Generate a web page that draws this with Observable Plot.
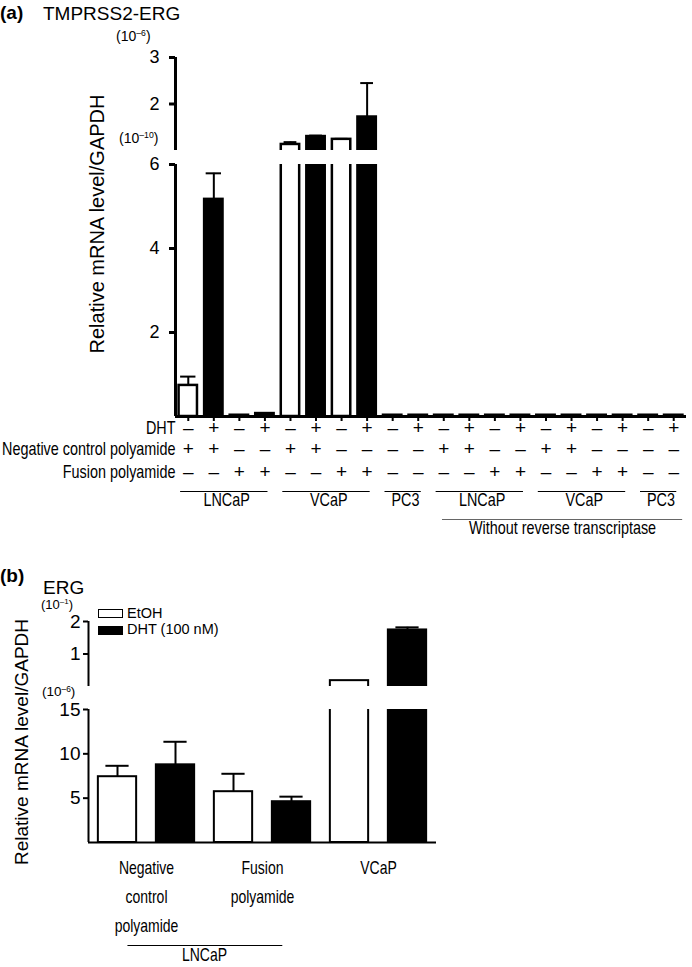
<!DOCTYPE html>
<html><head><meta charset="utf-8">
<script src="https://cdn.jsdelivr.net/npm/d3@7"></script>
<script src="https://cdn.jsdelivr.net/npm/@observablehq/plot@0.6"></script>
<style>
html,body{margin:0;padding:0;background:#fff;}
#page{position:relative;width:692px;height:967px;overflow:hidden;font-family:'Liberation Sans',Arial,sans-serif;color:#000;}
.abs{position:absolute;white-space:nowrap;line-height:1;}
.abs sup{font-size:0.62em;vertical-align:0.55em;line-height:0;}
</style></head><body><div id="page"></div>
<script>
// ---------------- Panel (a) data: TMPRSS2-ERG ----------------
const aDHT     = ["–","+","–","+","–","+","–","+","–","+","–","+","–","+","–","+","–","+","–","+"];
const aNegCtrl = ["+","+","–","–","+","+","–","–","–","–","+","+","–","–","+","+","–","–","–","–"];
const aFusion  = ["–","–","+","+","–","–","+","+","–","–","–","–","+","+","–","–","+","+","–","–"];
const aRowLabels = ["DHT", "Negative control polyamide", "Fusion polyamide"];
const aMean = [0.74e-10, 5.17e-10, 0.03e-10, 0.07e-10,
               1.13e-6, 1.30e-6, 1.24e-6, 1.72e-6,
               0.03e-10, 0.03e-10,
               0.03e-10, 0.03e-10, 0.03e-10, 0.03e-10,
               0.03e-10, 0.03e-10, 0.03e-10, 0.03e-10,
               0.03e-10, 0.03e-10];
const aErr  = [0.21e-10, 0.62e-10, 0, 0,
               0.05e-6, 0.02e-6, 0.01e-6, 0.73e-6,
               0, 0, 0, 0, 0, 0, 0, 0, 0, 0, 0, 0];
const aGroups = ["LNCaP", "VCaP", "PC3", "LNCaP", "VCaP", "PC3"];
const aGroupSizes = [4, 4, 2, 4, 4, 2];
const aOuterLabel = "Without reverse transcriptase";
const aOuterFirstGroup = 3;
const aLowerUnit = 1e-10, aUpperUnit = 1e-6;
const aLowerDomain = [0, 6], aUpperDomain = [1, 3];
const aLowerTicks = [2, 4, 6], aUpperTicks = [2, 3];

// ---------------- Panel (b) data: ERG ----------------
const bTreatment = ["EtOH", "DHT", "EtOH", "DHT", "EtOH", "DHT"];
const bMean = [7.42e-6, 8.76e-6, 5.73e-6, 4.6e-6, 0.018, 0.174];
const bErr  = [1.23e-6, 2.6e-6, 2.02e-6, 0.57e-6, 0, 0.008];
const bGroupLabels = ["Negative\ncontrol\npolyamide", "Fusion\npolyamide", "VCaP"];
const bGroupSizes = [2, 2, 2];
const bCellLabel = "LNCaP";
const bCellGroups = 2;
const bLegend = ["EtOH", "DHT (100 nM)"];
const bLowerUnit = 1e-6, bUpperUnit = 1e-1;
const bLowerDomain = [0, 15], bUpperDomain = [0, 2];
const bLowerTicks = [5, 10, 15], bUpperTicks = [1, 2];

const yTitle = "Relative mRNA level/GAPDH";

// ---------------- helpers ----------------
const NARROW = "'Liberation Sans',Arial,sans-serif";          // drawn horizontally condensed
const SANS = "'Liberation Sans',Arial,Helvetica,sans-serif";
const NARROW_SCALE = 0.8;
const page = document.getElementById("page");
function condense(svg) {
  svg.querySelectorAll("g").forEach(g => {
    if (g.getAttribute("font-family") !== NARROW) return;
    g.querySelectorAll("text").forEach(t => {
      const tr = t.getAttribute("transform") || "";
      t.setAttribute("transform", tr + ` scale(${NARROW_SCALE},1)`);
    });
  });
}
function place(svg, top) {
  condense(svg);
  svg.style.position = "absolute"; svg.style.left = "0px"; svg.style.top = top + "px";
  page.appendChild(svg);
}
function label(html, left, cy, css) {
  const d = document.createElement("div");
  d.className = "abs"; d.innerHTML = html;
  d.style.left = left + "px"; d.style.top = cy + "px"; d.style.transform = "translateY(-50%)";
  Object.assign(d.style, css || {});
  page.appendChild(d); return d;
}
function vlabel(text, cx, cy, size) {
  const d = document.createElement("div");
  d.className = "abs"; d.textContent = text;
  Object.assign(d.style, {left: cx + "px", top: cy + "px", fontSize: size + "px",
    transform: "translate(-50%,-50%) rotate(-90deg)"});
  page.appendChild(d);
}
function groupsOf(names, sizes) {
  let s = 0;
  return names.map((n, k) => { const g = {name: n, start: s, end: s + sizes[k] - 1}; s += sizes[k]; return g; });
}
function bars(data, unit, hw, sw, isOpen, extra) {
  const base = {x1: d => d.i - hw, x2: d => d.i + hw, y1: 0, y2: d => d.mean / unit,
                stroke: "black", strokeWidth: sw, clip: true, ...(extra || {})};
  return [
    Plot.rectY(data.filter(isOpen), {...base, fill: "white"}),
    Plot.rectY(data.filter(d => !isOpen(d)), {...base, fill: "black"})
  ];
}
function errs(data, unit, capHW, sw) {
  const e = data.filter(d => d.err > 0);
  return [
    Plot.ruleX(e, {x: "i", y1: d => d.mean / unit, y2: d => (d.mean + d.err) / unit, strokeWidth: sw, clip: true}),
    Plot.ruleY(e, {x1: d => d.i - capHW, x2: d => d.i + capHW, y: d => (d.mean + d.err) / unit, strokeWidth: sw, clip: true})
  ];
}
const fmt = d => String(d);
const baseStyle = {background: "transparent", fontFamily: SANS, fontSize: "18px", color: "#000", overflow: "visible"};

// ---------------- Panel (a) ----------------
const aData = aMean.map((m, i) => ({i, mean: m, err: aErr[i], dht: aDHT[i]}));
const aX = [-0.5, aMean.length - 0.5];
const aOpen = d => d.dht === "–";
const aOverflow = aData.filter(d => d.mean / aLowerUnit > aLowerDomain[1]);
const aG = groupsOf(aGroups, aGroupSizes);
const aOuter = [{name: aOuterLabel, start: aG[aOuterFirstGroup].start, end: aG[aG.length - 1].end}];

const aUpper = Plot.plot({
  width: 692, height: 105, marginLeft: 175, marginRight: 6, marginTop: 12, marginBottom: 0,
  x: {domain: aX, axis: null}, y: {domain: aUpperDomain},
  style: baseStyle,
  marks: [
    ...bars(aOverflow, aUpperUnit, 0.36, 2.5, aOpen),
    ...errs(aOverflow, aUpperUnit, 0.25, 2),
    Plot.ruleX([aX[0]], {strokeWidth: 3}),
    Plot.axisY({ticks: aUpperTicks, tickFormat: fmt, tickSize: 6, tickPadding: 10, strokeWidth: 3, fontSize: 18, label: null})
  ]
});
place(aUpper, 45);

const aRows = [aDHT, aNegCtrl, aFusion];
const aRowDy = [17, 38, 61];
const aLower = Plot.plot({
  width: 692, height: 390, marginLeft: 175, marginRight: 6, marginTop: 9, marginBottom: 129,
  x: {domain: aX}, y: {domain: aLowerDomain},
  style: baseStyle,
  marks: [
    ...bars(aData, aLowerUnit, 0.36, 2.5, aOpen),
    ...errs(aData, aLowerUnit, 0.3, 2),
    Plot.ruleY([0], {strokeWidth: 3}),
    Plot.ruleX([aX[0]], {strokeWidth: 3}),
    Plot.axisY({ticks: aLowerTicks, tickFormat: fmt, tickSize: 6, tickPadding: 10, strokeWidth: 3, fontSize: 18, label: null}),
    Plot.axisX({ticks: aData.map(d => d.i), tickSize: 5, strokeWidth: 2, tickFormat: () => "", label: null}),
    ...aRows.map((r, k) => Plot.text(r, {x: (d, i) => i, frameAnchor: "bottom", dy: aRowDy[k], fontSize: 19, fontFamily: SANS})),
    ...aRowLabels.map((t, k) => Plot.text([t], {x: () => aX[0], frameAnchor: "bottom", textAnchor: "end", dy: aRowDy[k], dx: 0, fontSize: 18, fontFamily: NARROW})),
    Plot.ruleY(aG, {x1: d => d.start - 0.3, x2: d => d.end + 0.12, y: d => 0, dy: 75, strokeWidth: 1}),
    Plot.text(aG, {x: d => (d.start + d.end) / 2, text: "name", frameAnchor: "bottom", dy: 89, fontSize: 18, fontFamily: NARROW}),
    Plot.ruleY(aOuter, {x1: d => d.start - 0.05, x2: d => d.end + 0.35, y: d => 0, dy: 103, strokeWidth: 1, stroke: "#666"}),
    Plot.text(aOuter, {x: d => (d.start - 0.05 + d.end + 0.35) / 2, text: "name", frameAnchor: "bottom", dy: 117, fontSize: 18, fontFamily: NARROW})
  ]
});
place(aLower, 155);

label("<b>(a)</b>", 0, 12, {fontSize: "19px"});
label("TMPRSS2-ERG", 43, 13, {fontSize: "19px"});
label("(10<sup>–6</sup>)", 116, 36, {fontSize: "14px"});
label("(10<sup>–10</sup>)", 119, 138, {fontSize: "14px"});
vlabel(yTitle, 97, 224, 20);

// ---------------- Panel (b) ----------------
const bData = bMean.map((m, i) => ({i, mean: m, err: bErr[i], t: bTreatment[i]}));
const bX = [-0.5, bMean.length - 0.5];
const bOpen = d => d.t === "EtOH";
const bOverflow = bData.filter(d => d.mean / bLowerUnit > bLowerDomain[1]);
const bG = groupsOf(bGroupLabels, bGroupSizes);
const bCell = [{name: bCellLabel, start: bG[0].start, end: bG[bCellGroups - 1].end}];

const bUpper = Plot.plot({
  width: 692, height: 76, marginLeft: 88, marginRight: 256, marginTop: 11, marginBottom: 0,
  x: {domain: bX, axis: null}, y: {domain: bUpperDomain},
  style: baseStyle,
  marks: [
    ...bars(bOverflow, bUpperUnit, 0.33, 2, bOpen, {insetBottom: -4}),
    ...errs(bOverflow, bUpperUnit, 0.2, 2),
    Plot.ruleX([bX[0]], {strokeWidth: 2}),
    Plot.axisY({ticks: bUpperTicks, tickFormat: fmt, tickSize: 5, tickPadding: 3, strokeWidth: 2, fontSize: 19, label: null})
  ]
});
place(bUpper, 610);

const bLower = Plot.plot({
  width: 692, height: 267, marginLeft: 88, marginRight: 256, marginTop: 9, marginBottom: 125,
  x: {domain: bX, axis: null}, y: {domain: bLowerDomain},
  style: baseStyle,
  marks: [
    ...bars(bData, bLowerUnit, 0.33, 2, bOpen),
    ...errs(bData, bLowerUnit, 0.2, 2),
    Plot.ruleY([0], {strokeWidth: 2}),
    Plot.ruleX([bX[0]], {strokeWidth: 2}),
    Plot.axisY({ticks: bLowerTicks, tickFormat: fmt, tickSize: 5, tickPadding: 3, strokeWidth: 2, fontSize: 19, label: null}),
    Plot.text(bG, {x: d => (d.start + d.end) / 2, text: "name", frameAnchor: "bottom", lineAnchor: "top", lineHeight: 1.65, dy: 11, fontSize: 17.5, fontFamily: NARROW}),
    Plot.ruleY(bCell, {x1: d => d.start + 0.18, x2: d => d.end - 0.15, y: d => 0, dy: 103, strokeWidth: 1}),
    Plot.text(bCell, {x: d => (d.start + d.end) / 2, text: "name", frameAnchor: "bottom", dy: 118, fontSize: 17.5, fontFamily: NARROW})
  ]
});
place(bLower, 700);

label("<b>(b)</b>", 0, 575, {fontSize: "19px"});
label("ERG", 43, 587, {fontSize: "19px"});
label("(10<sup>–1</sup>)", 41, 604, {fontSize: "13px"});
label("(10<sup>–6</sup>)", 42, 692, {fontSize: "13.5px"});
vlabel(yTitle, 21, 742, 19);

// legend
bLegend.forEach((t, k) => {
  const cy = 613.5 + k * 16.5;
  const sw = document.createElement("div");
  Object.assign(sw.style, {position: "absolute", left: "98px", top: (cy - 4.5) + "px", width: "25px", height: "9px",
    boxSizing: "border-box", border: "1.5px solid #000", background: k === 0 ? "#fff" : "#000"});
  page.appendChild(sw);
  label(t, 127, cy, {fontSize: "14.5px", lineHeight: "0.8"});
});
</script></body></html>
